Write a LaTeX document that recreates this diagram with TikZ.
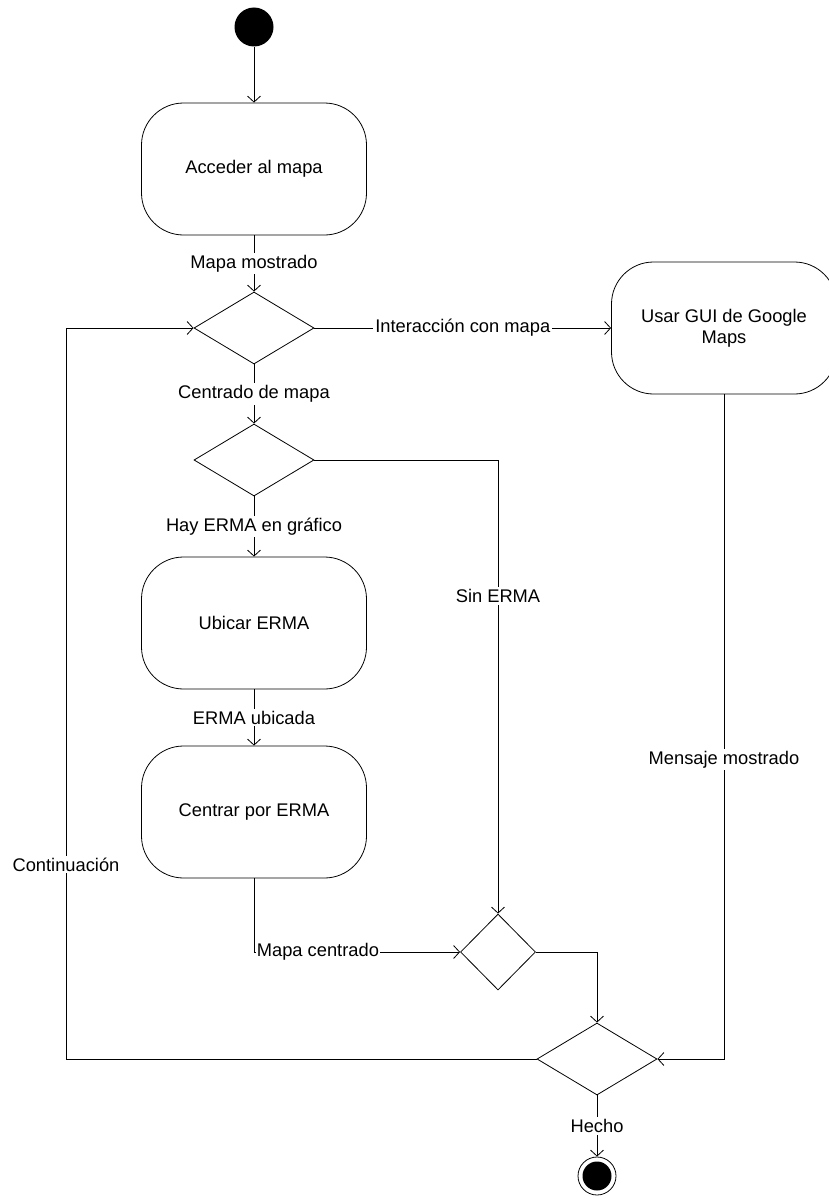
\documentclass[tikz,border=0pt]{standalone}
\usepackage{fontspec}
\setmainfont{Liberation Sans}
\usetikzlibrary{arrows.meta,shapes.geometric}

\tikzset{
  activity/.style={draw, rectangle, rounded corners=42pt, minimum width=225pt, minimum height=132pt, align=center},
  decision/.style={draw, diamond, minimum width=120pt, minimum height=72pt, inner sep=0pt},
  flow/.style={-{Straight Barb[length=6pt,width=13pt]}},
  guard/.style={fill=white, inner sep=2pt},
}

\begin{document}
\begin{tikzpicture}[x=1pt, y=-1pt, line width=0.8pt,
    every node/.append style={font=\fontsize{18.3pt}{21pt}\selectfont}]
  \useasboundingbox (0,0) rectangle (828,1199);

  % initial and final states
  \node[circle, fill=black, minimum size=39pt, inner sep=0pt] (start) at (254,27) {};
  \node[circle, draw, minimum size=38pt, inner sep=0pt,
        path picture={\fill (path picture bounding box.center) circle (14.5pt);}] (stop) at (597,1176) {};

  % activities
  \node[activity] (acceder) at (254,169) {Acceder al mapa};
  \node[activity] (ubicar) at (254,623) {Ubicar ERMA};
  \node[activity] (centrar) at (254,812) {Centrar por ERMA};
  \node[activity] (usar) at (724,328) {Usar GUI de Google\\Maps};

  % decisions / merges
  \node[decision] (d1) at (254,328) {};
  \node[decision] (d2) at (254,460) {};
  \node[decision, minimum width=75pt, minimum height=76pt] (d3) at (498,952) {};
  \node[decision] (d4) at (597,1059) {};

  \coordinate (loop) at (66,1059);

  % transitions
  \draw[flow] (start) -- (acceder);
  \draw[flow] (acceder) -- node[guard] {Mapa mostrado} (d1);
  \draw[flow] (d1) -- node[guard] {Interacción con mapa} (usar);
  \draw[flow] (d1) -- node[guard] {Centrado de mapa} (d2);
  \draw[flow] (d2) -- node[guard] {Hay ERMA en gráfico} (ubicar);
  \draw[flow] (ubicar) -- node[guard] {ERMA ubicada} (centrar);
  \draw[flow] (d2.east) -| node[guard, pos=0.65] {Sin ERMA} (d3.north);
  \draw[flow] (centrar.south) |- node[guard, pos=0.5, anchor=west, xshift=1.5pt, inner xsep=1pt] {Mapa centrado} (d3.west);
  \draw[flow] (d3.east) -| (d4.north);
  \draw[flow] (usar.south) |- node[guard, pos=0.275] {Mensaje mostrado} (d4.east);
  \draw[flow] (d4.west) -- (loop) |- node[guard, pos=0.133] {Continuación} (d1.west);
  \draw[flow] (d4) -- node[guard] {Hecho} (stop);
\end{tikzpicture}
\end{document}
